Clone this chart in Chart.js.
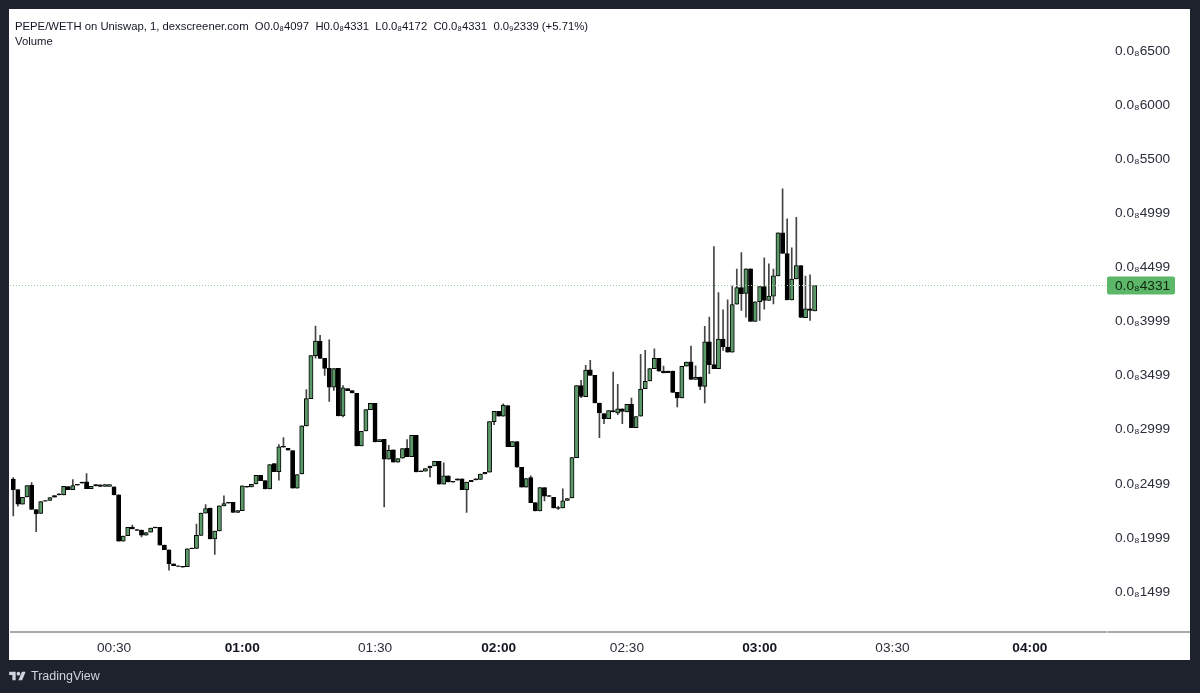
<!DOCTYPE html>
<html>
<head>
<meta charset="utf-8">
<title>PEPE/WETH</title>
<script src="https://cdn.jsdelivr.net/npm/chart.js@4/dist/chart.umd.min.js"></script>
<style>
  html, body { margin: 0; padding: 0; width: 1200px; height: 693px; overflow: hidden; background: #1e222d; }
  body { position: relative; font-family: "Liberation Sans", Arial, sans-serif; }
  #panel { position: absolute; left: 9px; top: 9px; width: 1181px; height: 651px; background: #fff; }
  #chart { position: absolute; left: 0; top: 0; }
  .legend { position: absolute; left: 15px; font-size: 11.3px; color: #131722; white-space: pre; }
  #footer { position: absolute; left: 31px; top: 669px; font: 12.5px "Liberation Sans", Arial, sans-serif; color: #d1d4dc; }
  #logo { position: absolute; left: 9px; top: 670px; }
</style>
</head>
<body>
<div id="panel"></div>
<canvas id="chart" width="1200" height="693"></canvas>
<div class="legend" style="top:20px">PEPE/WETH on Uniswap, 1, dexscreener.com  O0.0₈4097  H0.0₈4331  L0.0₈4172  C0.0₈4331  0.0₉2339 (+5.71%)</div>
<div class="legend" style="top:35px">Volume</div>
<svg id="logo" width="17" height="13" viewBox="0 0 36 28" fill="#d1d4dc"><path d="M14 22H7V11H0V4h14v18zM28 22h-8l7.5-18h8L28 22z"/><circle cx="20" cy="8" r="4"/></svg>
<div id="footer">TradingView</div>

<script>
// Candles (price in units of 0.0₈)
const opens = [2542,2446,2311,2379,2486,2262,2225,2345,2345,2391,
  2406,2397,2474,2446,2495,2514,2517,2455,2492,2489,
  2474,2474,2471,2397,1969,2019,2099,2077,2071,2025,
  2052,2099,2096,1933,1890,1760,1742,1736,1733,1905,
  1902,2022,2228,2274,1991,2065,2296,2329,2329,2234,
  2252,2477,2471,2498,2578,2529,2452,2686,2612,2846,
  2828,2806,2458,2591,3034,3286,3683,3818,3658,3566,
  3391,3566,3126,3378,3360,3335,2849,2988,3184,3243,
  2889,2911,2726,2812,2698,2735,2828,2751,2948,2619,
  2615,2662,2665,2708,2495,2572,2523,2545,2545,2446,
  2532,2545,2539,2606,2606,3074,3169,3123,3221,2843,
  2889,2652,2468,2557,2326,2249,2465,2391,2375,2280,
  2277,2345,2369,2741,3406,3304,3553,3501,3246,3148,
  3101,3175,3154,3191,3163,3234,3018,3123,3378,3449,
  3563,3658,3541,3541,3541,3344,3292,3587,3627,3464,
  3486,3400,3812,3600,3563,3836,3763,3716,4159,4313,
  4258,4485,3999,4181,4322,4193,4233,4421,4818,4627,
  4199,4393,4516,4033,4116,4097];
const closes = [2446,2311,2375,2483,2262,2222,2335,2339,2372,2375,
  2397,2477,2446,2483,2486,2505,2455,2477,2480,2474,
  2492,2492,2397,1969,2016,2096,2083,2068,2025,2049,
  2089,2092,1933,1890,1760,1742,1736,1730,1899,1899,
  2022,2228,2271,1991,2062,2296,2317,2320,2234,2252,
  2480,2468,2495,2578,2529,2452,2677,2612,2840,2837,
  2809,2458,2585,3034,3286,3683,3818,3658,3566,3391,
  3563,3126,3387,3360,3338,2849,2985,3184,3243,2886,
  2908,2726,2809,2698,2732,2825,2751,2948,2609,2612,
  2640,2649,2708,2495,2572,2517,2514,2532,2446,2514,
  2520,2535,2588,2591,3074,3169,3123,3224,2843,2889,
  2652,2468,2548,2326,2249,2465,2385,2382,2277,2271,
  2342,2363,2741,3406,3307,3550,3501,3246,3154,3101,
  3175,3163,3191,3169,3234,3018,3120,3375,3446,3563,
  3658,3541,3523,3526,3344,3292,3584,3624,3464,3483,
  3400,3812,3600,3563,3836,3763,3716,4156,4313,4255,
  4485,3999,4181,4322,4193,4233,4421,4818,4627,4199,
  4390,4516,4036,4116,4101,4331];
const highs = [2557,2446,2375,2483,2511,2262,2335,2345,2372,2391,
  2406,2477,2474,2538,2495,2514,2594,2477,2492,2489,
  2492,2492,2471,2397,2016,2096,2117,2077,2071,2049,
  2089,2099,2096,1933,1890,1760,1742,1736,1899,1905,
  2126,2228,2308,2274,2062,2296,2388,2329,2329,2252,
  2480,2477,2495,2578,2578,2529,2677,2686,2861,2926,
  2828,2806,2585,3034,3369,3683,3956,3870,3658,3830,
  3563,3566,3406,3378,3360,3335,2985,3184,3243,3243,
  2908,2911,2855,2812,2732,2825,2908,2948,2948,2619,
  2640,2662,2708,2708,2692,2572,2523,2545,2545,2514,
  2532,2545,2588,2606,3074,3169,3169,3237,3221,2889,
  2889,2652,2548,2572,2326,2465,2465,2391,2375,2292,
  2452,2363,2741,3406,3455,3593,3640,3501,3246,3148,
  3175,3532,3418,3191,3234,3292,3120,3695,3732,3563,
  3747,3658,3587,3541,3541,3344,3584,3624,3772,3590,
  3486,3953,4039,4692,4267,4107,4199,4326,4482,4636,
  4485,4485,4181,4322,4587,4532,4482,4818,5224,4947,
  4679,4962,4516,4418,4430,4331];
const lows = [2203,2292,2311,2379,2262,2056,2225,2339,2345,2375,
  2397,2397,2446,2446,2486,2505,2455,2455,2480,2474,
  2474,2474,2397,1969,1969,2019,2083,2068,2009,2025,
  2052,2092,1933,1890,1702,1742,1736,1730,1733,1899,
  1902,2022,2228,1991,1846,2065,2296,2320,2234,2234,
  2252,2468,2471,2498,2529,2452,2452,2612,2532,2837,
  2809,2458,2458,2591,3034,3286,3661,3658,3501,3261,
  3363,3126,3117,3360,3338,2849,2849,2988,3184,2886,
  2889,2286,2726,2698,2698,2735,2751,2751,2609,2612,
  2615,2563,2665,2495,2495,2517,2514,2532,2446,2234,
  2520,2535,2539,2591,2606,3046,3123,3123,2843,2843,
  2652,2468,2468,2326,2249,2249,2342,2382,2277,2262,
  2277,2345,2369,2741,3295,3304,3501,3246,2926,3055,
  3101,3163,3138,3055,3163,3018,3018,3123,3378,3449,
  3563,3541,3523,3526,3344,3209,3292,3587,3464,3464,
  3369,3246,3517,3563,3563,3732,3716,3716,4159,4101,
  4039,3999,3999,4009,4113,4193,4162,4421,4627,4199,
  4199,4393,4036,4033,4009,4097];

// Axes
const priceTicks = [6500, 6000, 5500, 4999, 4499, 3999, 3499, 2999, 2499, 1999, 1499];
const timeLabels = ['00:30', '01:00', '01:30', '02:00', '02:30', '03:00', '03:30', '04:00'];
const timeSlots = [22, 50, 79, 106, 134, 163, 192, 222];
const hourLabels = ['01:00', '02:00', '03:00', '04:00'];
const slotCount = 240;

const GREEN = '#5b9a68';
const BLACK = '#000000';
const FONT = '"Liberation Sans", Arial, sans-serif';

const priceText = v => `0.0₈${v}`;

// one category per candle slot, only some carry a time label
const categories = Array.from({ length: slotCount }, (_, i) => {
  const k = timeSlots.indexOf(i);
  return k < 0 ? '' : timeLabels[k];
});

// last price line, price tag and the axis rule across the whole panel
const lastPricePlugin = {
  id: 'lastPrice',
  afterDraw(chart) {
    const { ctx, scales: { y, x } } = chart;
    const last = closes[closes.length - 1];
    const py = Math.floor(y.getPixelForValue(last)) + 0.5;

    ctx.save();
    ctx.strokeStyle = '#8fcf9a';
    ctx.setLineDash([1, 2]);
    ctx.beginPath();
    ctx.moveTo(10, py);
    ctx.lineTo(1107, py);
    ctx.stroke();
    ctx.setLineDash([]);

    ctx.fillStyle = '#5cb868';
    ctx.beginPath();
    ctx.roundRect(1107, py - 9, 68, 18, 2);
    ctx.fill();
    ctx.fillStyle = '#10240f';
    ctx.font = `13.7px ${FONT}`;
    ctx.textBaseline = 'middle';
    ctx.fillText(priceText(last), 1115, py + 0.5);

    // bottom rule
    ctx.strokeStyle = '#8c8c8c';
    ctx.lineWidth = 1.5;
    ctx.beginPath();
    ctx.moveTo(10, x.top);
    ctx.lineTo(1190, x.top);
    ctx.stroke();
    ctx.strokeStyle = '#dddddd';
    ctx.beginPath();
    ctx.moveTo(1106.5, x.top);
    ctx.lineTo(1108, x.top);
    ctx.stroke();
    ctx.restore();
  },
};

function initChart() {
  new Chart(document.getElementById('chart'), {
    type: 'bar',
    plugins: [lastPricePlugin],
    data: {
      labels: categories,
      datasets: [
        {
          label: 'Body',
          data: opens.map((o, i) => [o, closes[i]]),
          backgroundColor: opens.map((o, i) => (closes[i] >= o ? GREEN : BLACK)),
          borderColor: BLACK,
          borderWidth: 1,
          borderSkipped: false,
          barThickness: 4.2,
          grouped: false,
          order: 1,
        },
        {
          label: 'Wick',
          data: lows.map((l, i) => [l, highs[i]]),
          backgroundColor: '#444444',
          barThickness: 1,
          grouped: false,
          order: 2,
        },
      ],
    },
    options: {
      responsive: false,
      animation: false,
      devicePixelRatio: 1,
      layout: { padding: { left: 11, top: 10, right: 10, bottom: 33 } },
      plugins: { legend: { display: false }, tooltip: { enabled: false } },
      scales: {
        x: {
          grid: { display: false, drawTicks: false },
          border: { display: false },
          afterFit: s => { s.height = 28; },
          ticks: {
            autoSkip: false,
            maxRotation: 0,
            padding: 8,
            color: ctx => (hourLabels.includes(ctx.tick && ctx.tick.label) ? '#131722' : '#2a2e39'),
            font: ctx => ({
              family: FONT,
              size: 13.7,
              weight: hourLabels.includes(ctx.tick && ctx.tick.label) ? 'bold' : 'normal',
            }),
          },
        },
        y: {
          position: 'right',
          min: 1130,
          max: 6847,
          grid: { display: false, drawTicks: false },
          border: { display: false },
          afterFit: s => { s.width = 80; },
          afterBuildTicks: s => { s.ticks = priceTicks.map(v => ({ value: v })); },
          ticks: {
            padding: 5,
            color: '#2a2e39',
            font: { family: FONT, size: 13.7 },
            callback: v => priceText(v),
          },
        },
      },
    },
  });
}

document.addEventListener('DOMContentLoaded', initChart);
</script>
</body>
</html>
